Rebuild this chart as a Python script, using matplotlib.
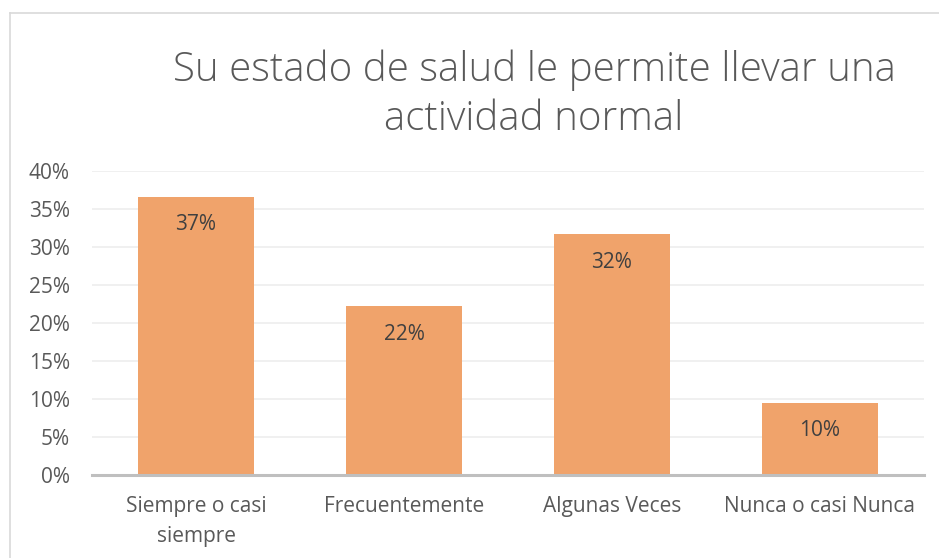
import matplotlib
matplotlib.use("Agg")
import matplotlib.pyplot as plt
from matplotlib.lines import Line2D

categories = ["Siempre o casi\nsiempre", "Frecuentemente", "Algunas Veces", "Nunca o casi Nunca"]
values = [0.366, 0.222, 0.317, 0.095]
yticks = [0, 0.05, 0.10, 0.15, 0.20, 0.25, 0.30, 0.35, 0.40]

TEXT = "#595959"
BAR = "#F0A36B"

plt.rcParams["font.family"] = ["Open Sans", "DejaVu Sans"]

W, H = 939, 558
fig = plt.figure(figsize=(W / 100, H / 100), dpi=100)
# axes box in pixel terms: x 92..924, y 171..475
ax = fig.add_axes([92 / W, 1 - 475 / H, (924 - 92) / W, (475 - 171) / H])

x = range(len(categories))
bars = ax.bar(x, values, width=0.56, color=BAR, zorder=2)
ax.set_xlim(-0.5, len(categories) - 0.5)
ax.set_ylim(0, 0.40)

ax.set_yticks(yticks)
ax.set_yticklabels([f"{int(round(t * 100))}%" for t in yticks])
ax.set_xticks(list(x))
ax.set_xticklabels(categories, linespacing=1.55)
ax.tick_params(axis="y", length=0, pad=16, labelsize=15, labelcolor=TEXT)
ax.tick_params(axis="x", length=0, pad=15, labelsize=15, labelcolor=TEXT)

ax.grid(axis="y", color="#EEEEEE", lw=1.2, zorder=0)
for s in ["top", "right", "left"]:
    ax.spines[s].set_visible(False)
ax.spines["bottom"].set_color("#BFBFBF")
ax.spines["bottom"].set_linewidth(2.2)
ax.spines["bottom"].set_zorder(3)

for b, v in zip(bars, values):
    ax.annotate(f"{round(v * 100):.0f}%", (b.get_x() + b.get_width() / 2, v),
                xytext=(0, -28), textcoords="offset pixels",
                ha="center", va="center", fontsize=15, color="#404040")

fig.text(534 / W, 1 - 70 / H, "Su estado de salud le permite llevar una",
         ha="center", va="center", fontsize=29, color=TEXT, fontweight="light")
fig.text(534 / W, 1 - 120 / H, "actividad normal",
         ha="center", va="center", fontsize=29, color=TEXT, fontweight="light")

# chart border (left and top visible in the crop)
fig.add_artist(Line2D([10 / W, 10 / W], [0, 1 - 13 / H], color="#D9D9D9", lw=1.2))
fig.add_artist(Line2D([10 / W, 1], [1 - 13 / H, 1 - 13 / H], color="#D9D9D9", lw=1.2))

fig.savefig("out.png", dpi=100)
